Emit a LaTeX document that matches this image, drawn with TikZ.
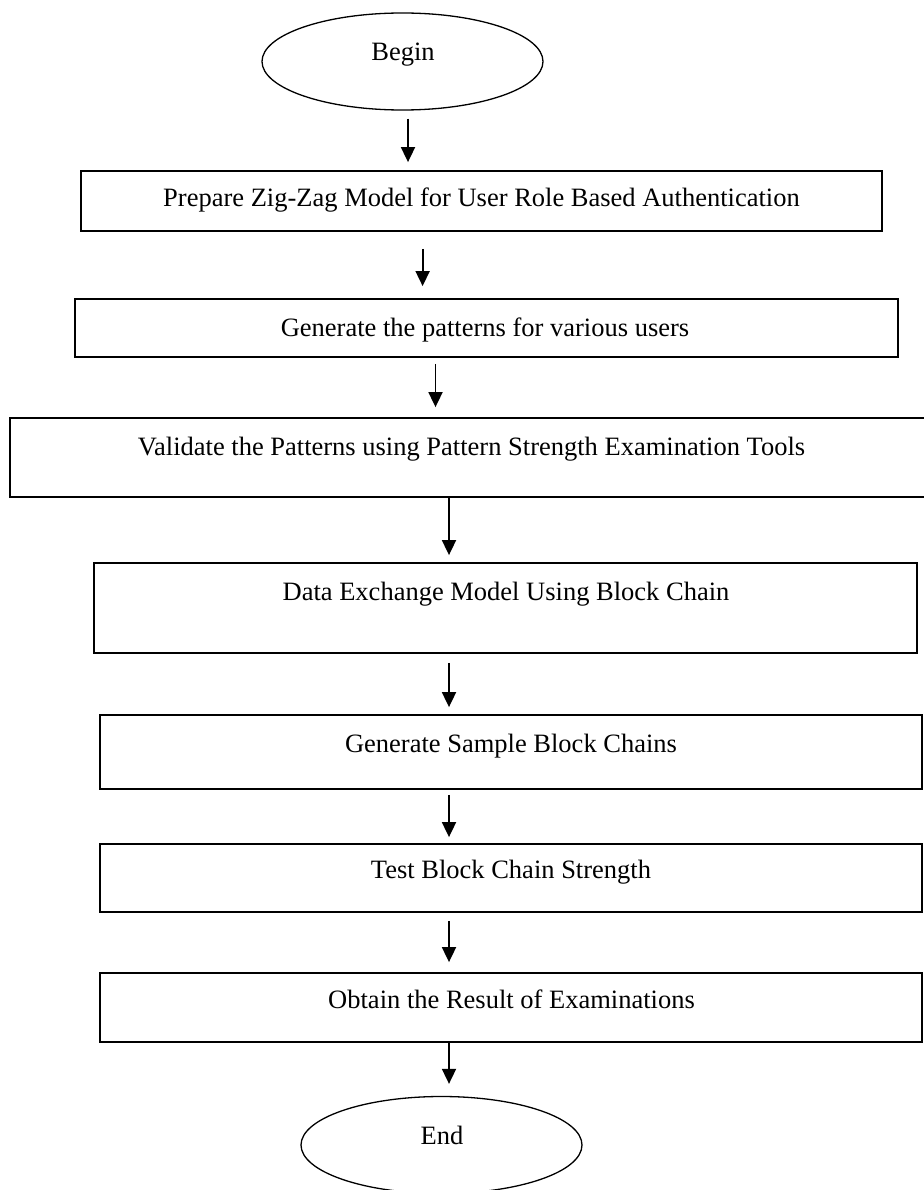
\documentclass[tikz,border=0pt]{standalone}
\usepackage{fontspec}
\setmainfont{Liberation Serif}
\usetikzlibrary{shapes.geometric,arrows.meta}
\begin{document}
\begin{tikzpicture}[x=1pt,y=-1pt,
  box/.style={draw, line width=1.8pt, rectangle, inner sep=0pt},
  term/.style={draw, line width=1.3pt, ellipse, inner sep=0pt, minimum width=281pt, minimum height=97pt},
  txt/.style={font=\fontsize{26.5}{30}\selectfont, anchor=base, inner sep=0pt},
  arr/.style={line width=1.8pt, -{Triangle[length=15pt,width=14pt]}}]
\useasboundingbox (0,0) rectangle (923,1190);
% terminals
\node[term] (begin) at (402.5,61.5) {};
\node[txt] (tbegin) at (403,61) {Begin};
\node[term] (end) at (441.5,1145) {};
\node[txt] (tend) at (442,1144) {End};
% boxes
\node[box, minimum width=801pt, minimum height=60pt] (b1) at (481.5,201) {};
\node[txt] (t1) at (481.5,207) {Prepare Zig-Zag Model for User Role Based Authentication};
\node[box, minimum width=823pt, minimum height=58pt] (b2) at (486.5,328) {};
\node[txt] (t2) at (485,336) {Generate the patterns for various users};
\node[box, minimum width=923pt, minimum height=79pt] (b3) at (471.5,457.5) {};
\node[txt] (t3) at (471.5,455) {Validate the Patterns using Pattern Strength Examination Tools};
\node[box, minimum width=823pt, minimum height=90pt] (b4) at (505.5,608) {};
\node[txt] (t4) at (506,600) {Data Exchange Model Using Block Chain};
\node[box, minimum width=822pt, minimum height=74pt] (b5) at (511,752) {};
\node[txt] (t5) at (511,752) {Generate Sample Block Chains};
\node[box, minimum width=822pt, minimum height=68pt] (b6) at (511,878) {};
\node[txt] (t6) at (511,878) {Test Block Chain Strength};
\node[box, minimum width=822pt, minimum height=69pt] (b7) at (511,1007.5) {};
\node[txt] (t7) at (511.5,1008.5) {Obtain the Result of Examinations};
% arrow columns
\coordinate (x1) at (408,0);
\coordinate (x2) at (422.6,0);
\coordinate (x3) at (435.5,0);
\coordinate (x4) at (449,0);
% arrows
\draw[arr, shorten <=8pt, shorten >=8pt] (begin.south -| x1) -- (b1.north -| x1);
\draw[arr, shorten <=17pt, shorten >=12pt] (b1.south -| x2) -- (b2.north -| x2);
\draw[arr, shorten <=6pt, shorten >=10pt] (b2.south -| x3) -- (b3.north -| x3);
\draw[arr, shorten >=7pt] (b3.south -| x4) -- (b4.north -| x4);
\draw[arr, shorten <=9pt, shorten >=7pt] (b4.south -| x4) -- (b5.north -| x4);
\draw[arr, shorten <=5pt, shorten >=6pt] (b5.south -| x4) -- (b6.north -| x4);
\draw[arr, shorten <=8pt, shorten >=10pt] (b6.south -| x4) -- (b7.north -| x4);
\draw[arr, shorten >=12pt] (b7.south -| x4) -- (end.north -| x4);
\end{tikzpicture}
\end{document}
